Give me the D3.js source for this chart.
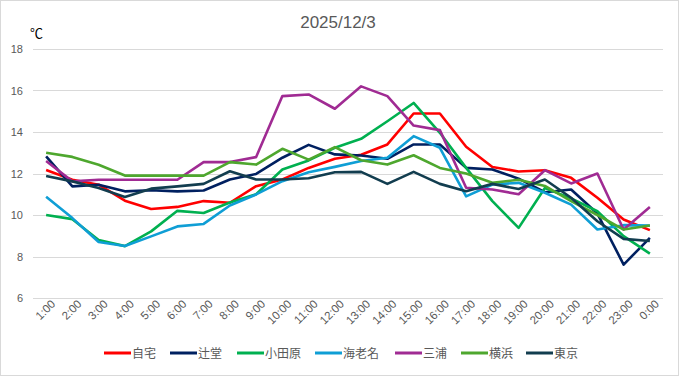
<!DOCTYPE html>
<html>
<head>
<meta charset="utf-8">
<script src="https://cdn.jsdelivr.net/npm/d3@7"></script>
<style>
  body { margin: 0; background: #fff; }
  #chart { width: 679px; height: 376px; }
  text { font-family: "Noto Sans CJK JP", "Noto Sans", sans-serif; }
</style>
</head>
<body>
<div id="chart"></div>
<script>
const hours = ['1:00','2:00','3:00','4:00','5:00','6:00','7:00','8:00','9:00','10:00','11:00','12:00',
  '13:00','14:00','15:00','16:00','17:00','18:00','19:00','20:00','21:00','22:00','23:00','0:00'];

const jitaku = [12.17, 11.7, 11.46, 10.69, 10.29, 10.39, 10.67, 10.59, 11.39, 11.71, 12.27, 12.71,
  12.9, 13.4, 14.89, 14.89, 13.29, 12.31, 12.1, 12.16, 11.79, 10.83, 9.78, 9.27];
const tsujido = [12.83, 11.38, 11.46, 11.14, 11.19, 11.14, 11.18, 11.71, 11.98, 12.76, 13.38, 12.92,
  12.87, 12.71, 13.4, 13.4, 12.27, 12.19, 11.75, 11.1, 11.23, 10.07, 7.61, 8.9];
const odawara = [10.0, 9.8, 8.8, 8.5, 9.21, 10.2, 10.1, 10.6, 11.0, 12.19, 12.63, 13.24,
  13.67, 14.52, 15.4, 13.96, 12.27, 10.67, 9.38, 11.3, 10.8, 10.18, 8.98, 8.14];
const ebina = [10.88, 9.85, 8.7, 8.51, 8.97, 9.45, 9.57, 10.46, 10.99, 11.63, 12.06, 12.32,
  12.6, 12.76, 13.8, 13.24, 10.9, 11.47, 11.55, 11.07, 10.5, 9.3, 9.51, 9.49];
const miura = [12.6, 11.62, 11.7, 11.7, 11.7, 11.7, 12.55, 12.55, 12.79, 15.73, 15.81, 15.12,
  16.2, 15.73, 14.31, 14.09, 11.31, 11.23, 11.0, 12.16, 11.52, 12.0, 9.3, 10.39];
const yokohama = [13.0, 12.8, 12.42, 11.9, 11.9, 11.9, 11.9, 12.55, 12.43, 13.19, 12.67, 13.27,
  12.64, 12.43, 12.88, 12.27, 12.0, 11.55, 11.7, 11.4, 10.67, 10.0, 9.3, 9.49];
const tokyo = [11.88, 11.62, 11.3, 10.87, 11.27, 11.38, 11.5, 12.11, 11.71, 11.71, 11.77, 12.06,
  12.08, 11.5, 12.08, 11.5, 11.15, 11.5, 11.25, 11.71, 10.83, 9.7, 8.85, 8.75];

const yTicks = [6, 8, 10, 12, 14, 16, 18];

const series = [
  { name: '自宅', values: jitaku, color: '#ff0000' },
  { name: '辻堂', values: tsujido, color: '#002060' },
  { name: '小田原', values: odawara, color: '#00b050' },
  { name: '海老名', values: ebina, color: '#0f9ed5' },
  { name: '三浦', values: miura, color: '#a02b93' },
  { name: '横浜', values: yokohama, color: '#4ea72e' },
  { name: '東京', values: tokyo, color: '#123d4f' }
];

const W = 679, H = 376;
const margin = { top: 49, right: 16, bottom: 78, left: 33 };
const width = W - margin.left - margin.right;
const height = H - margin.top - margin.bottom;

const svg = d3.select('#chart')
  .append('svg')
  .attr('width', W)
  .attr('height', H);

// outer frame
svg.append('rect')
  .attr('x', 0.5).attr('y', 0.5)
  .attr('width', W - 1).attr('height', H - 1)
  .attr('fill', '#fff')
  .attr('stroke', '#d9d9d9');

const g = svg.append('g')
  .attr('transform', `translate(${margin.left},${margin.top})`);

const x = d3.scaleBand()
  .domain(hours)
  .range([0, width]);

const y = d3.scaleLinear()
  .domain([6, 18])
  .range([height, 0]);

// gridlines
g.selectAll('.grid')
  .data(yTicks)
  .join('line')
  .attr('x1', 0)
  .attr('x2', width)
  .attr('y1', d => Math.round(y(d)) + 0.5)
  .attr('y2', d => Math.round(y(d)) + 0.5)
  .attr('stroke', '#d9d9d9')
  .attr('stroke-width', 1);

// y axis labels
const yAxis = g.append('g')
  .call(d3.axisLeft(y).tickValues(yTicks).tickSize(0).tickPadding(10));
yAxis.select('.domain').remove();
yAxis.selectAll('text')
  .attr('fill', '#595959')
  .style('font-size', '11px')
  .style('font-family', '"Liberation Sans", Arial, sans-serif');

// x axis labels
const xAxis = g.append('g')
  .attr('transform', `translate(0,${height})`)
  .call(d3.axisBottom(x).tickSize(0).tickPadding(6));
xAxis.select('.domain').remove();
xAxis.selectAll('text')
  .attr('fill', '#595959')
  .style('font-size', '11.5px')
  .style('font-family', '"Liberation Sans", Arial, sans-serif')
  .style('text-anchor', 'end')
  .attr('dx', '0.2em')
  .attr('dy', '0.5em')
  .attr('transform', 'rotate(-45)');

// lines
const line = d3.line()
  .x((d, i) => x(hours[i]) + x.bandwidth() / 2)
  .y(d => y(d));

g.selectAll('.series')
  .data(series)
  .join('path')
  .attr('class', 'series')
  .attr('fill', 'none')
  .attr('stroke', d => d.color)
  .attr('stroke-width', 2.6)
  .attr('stroke-linejoin', 'round')
  .attr('d', d => line(d.values));

// title
svg.append('text')
  .attr('x', 338)
  .attr('y', 28)
  .attr('text-anchor', 'middle')
  .attr('fill', '#595959')
  .style('font-size', '17px')
  .style('font-family', '"Liberation Sans", Arial, sans-serif')
  .text('2025/12/3');

// unit label
svg.append('text')
  .attr('x', 30)
  .attr('y', 38)
  .attr('fill', '#000')
  .style('font-size', '13px')
  .text('℃');

// legend
const legendX = [104, 170, 237, 315, 395, 461, 526];
const legend = svg.append('g')
  .attr('transform', 'translate(0,353)');

const item = legend.selectAll('.item')
  .data(series)
  .join('g')
  .attr('class', 'item')
  .attr('transform', (d, i) => `translate(${legendX[i]},0)`);

item.append('line')
  .attr('x1', 0).attr('x2', 27)
  .attr('y1', 0).attr('y2', 0)
  .attr('stroke', d => d.color)
  .attr('stroke-width', 3);

item.append('text')
  .attr('x', 28)
  .attr('y', 4.5)
  .attr('fill', '#595959')
  .style('font-size', '12px')
  .text(d => d.name);
</script>
</body>
</html>
